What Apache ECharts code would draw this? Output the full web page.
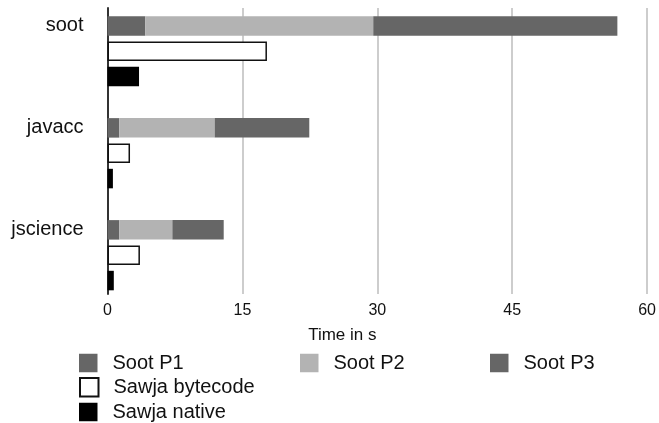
<!DOCTYPE html>
<html>
<head>
<meta charset="utf-8">
<script src="https://cdn.jsdelivr.net/npm/echarts@6/dist/echarts.min.js"></script>
<style>
html,body{margin:0;padding:0;background:#fff;}
#chart{width:659px;height:423px;}
</style>
</head>
<body>
<div id="chart"></div>
<script>
var categories = ['soot', 'javacc', 'jscience'];
var sootP1 = [4.2, 1.3, 1.3];
var sootP2 = [25.3, 10.6, 5.9];
var sootP3 = [27.1, 10.5, 5.7];
var sawjaBytecode = [17.7, 2.5, 3.6];
var sawjaNative = [3.5, 0.6, 0.7];
var xTicks = [0, 15, 30, 45, 60];

var FONT = '"Liberation Sans", Arial, Helvetica, sans-serif';
var chart = echarts.init(document.getElementById('chart'), null, {renderer: 'canvas'});

function legendAt(name, left, top) {
  return {
    data: [name], left: left, top: top, padding: 0, orient: 'horizontal',
    itemWidth: 18.5, itemHeight: 18.5, icon: 'rect', selectedMode: false,
    textStyle: {fontFamily: FONT, fontSize: 20, color: '#111', padding: [0, 0, 0, 10]}
  };
}

var barW = 19.5;
var option = {
  animation: false,
  backgroundColor: '#fff',
  legend: [
    legendAt('Soot P1', 79, 353),
    legendAt('Soot P2', 300, 353),
    legendAt('Soot P3', 490, 353),
    legendAt('Sawja bytecode', 79, 377),
    legendAt('Sawja native', 79, 402)
  ],
  grid: [
    {left: 107.5, right: 11, top: 8, height: 286},
    {left: 107.5, right: 11, top: -4.4, height: 310.6}
  ],
  xAxis: [
    {
      gridIndex: 0, type: 'value', min: xTicks[0], max: xTicks[xTicks.length - 1], interval: 15,
      axisLine: {show: false}, axisTick: {show: false},
      splitLine: {show: true, lineStyle: {color: '#bdbdbd', width: 1.5}},
      axisLabel: {fontFamily: FONT, fontSize: 16, color: '#111', margin: 9},
      name: 'Time in s', nameLocation: 'middle', nameGap: 33,
      nameTextStyle: {fontFamily: FONT, fontSize: 17, color: '#111', padding: [0, 70, 0, 0]}
    },
    {
      gridIndex: 1, type: 'value', min: xTicks[0], max: xTicks[xTicks.length - 1], show: false
    }
  ],
  yAxis: [
    {
      gridIndex: 0, type: 'category', data: categories, inverse: true,
      axisLine: {show: true, lineStyle: {color: '#333', width: 2}},
      axisTick: {show: false}, axisLabel: {show: false}, splitLine: {show: false}
    },
    {
      gridIndex: 1, type: 'category', data: categories, inverse: true,
      axisLine: {show: false}, axisTick: {show: false}, splitLine: {show: false},
      axisLabel: {fontFamily: FONT, fontSize: 20, color: '#111', margin: 24,
                  verticalAlign: 'bottom', lineHeight: 52}
    }
  ],
  series: [
    {name: 'Soot P1', type: 'bar', stack: 'soot', xAxisIndex: 1, yAxisIndex: 1, data: sootP1,
     barWidth: barW, barGap: '30%', itemStyle: {color: '#666666'}},
    {name: 'Soot P2', type: 'bar', stack: 'soot', xAxisIndex: 1, yAxisIndex: 1, data: sootP2,
     barWidth: barW, barGap: '30%', itemStyle: {color: '#b3b3b3'}},
    {name: 'Soot P3', type: 'bar', stack: 'soot', xAxisIndex: 1, yAxisIndex: 1, data: sootP3,
     barWidth: barW, barGap: '30%', itemStyle: {color: '#666666'}},
    {name: 'Sawja bytecode', type: 'bar', xAxisIndex: 1, yAxisIndex: 1, data: sawjaBytecode,
     barWidth: barW, barGap: '30%', itemStyle: {color: '#ffffff', borderColor: '#111', borderWidth: 1.5}},
    {name: 'Sawja native', type: 'bar', xAxisIndex: 1, yAxisIndex: 1, data: sawjaNative,
     barWidth: barW, barGap: '30%', itemStyle: {color: '#000000'}}
  ]
};
chart.setOption(option);
</script>
</body>
</html>
